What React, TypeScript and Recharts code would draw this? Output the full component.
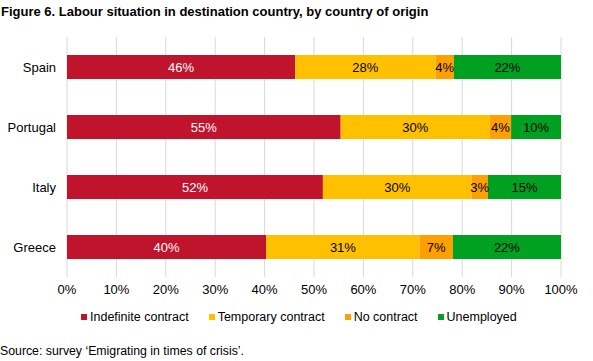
import React from 'react';
import { Bar, BarChart, CartesianGrid, LabelList, XAxis, YAxis } from 'recharts';

const countries = ['Spain', 'Portugal', 'Italy', 'Greece'];
const indefinite = [46.2, 55.4, 51.8, 40.3];
const temporary = [28.4, 30.2, 30.1, 31.1];
const noContract = [3.7, 4.3, 3.3, 6.7];
const unemployed = [21.7, 10.1, 14.8, 21.9];
const xTicks = [0, 10, 20, 30, 40, 50, 60, 70, 80, 90, 100];

const series = [
  { key: 'indefinite', name: 'Indefinite contract', color: '#C0132C', text: '#fff' },
  { key: 'temporary', name: 'Temporary contract', color: '#FFC000', text: '#000' },
  { key: 'noContract', name: 'No contract', color: '#FF9F00', text: '#000' },
  { key: 'unemployed', name: 'Unemployed', color: '#00A020', text: '#000' },
];

const data = countries.map((country, i) => ({
  country,
  indefinite: indefinite[i],
  temporary: temporary[i],
  noContract: noContract[i],
  unemployed: unemployed[i],
}));

const font = '"Liberation Sans", Arial, sans-serif';

const App = () => {
  return (
    <div style={{ position: 'fixed', left: 0, top: 0, width: 593, height: 361, background: '#fff', fontFamily: font }}>
      <BarChart
        width={593}
        height={361}
        layout="vertical"
        data={data}
        margin={{ top: 37, right: 32, bottom: 54, left: 0 }}
        style={{ fontFamily: font }}
      >
        <CartesianGrid horizontal={false} stroke="#d9d9d9" />
        <XAxis
          type="number"
          domain={[0, 100]}
          ticks={xTicks}
          interval={0}
          tickFormatter={(v) => v + '%'}
          axisLine={false}
          tickLine={false}
          height={30}
          tick={{ fill: '#000', fontSize: 13 }}
        />
        <YAxis
          type="category"
          dataKey="country"
          width={67}
          axisLine={false}
          tickLine={false}
          tickMargin={5}
          tick={{ fill: '#000', fontSize: 13 }}
        />
        {series.map((s) => (
          <Bar key={s.key} dataKey={s.key} stackId="a" fill={s.color} barSize={24} isAnimationActive={false}>
            <LabelList
              dataKey={s.key}
              position="center"
              fill={s.text}
              fontSize={13}
              formatter={(v: number) => Math.round(v) + '%'}
            />
          </Bar>
        ))}
      </BarChart>
      <div style={{ position: 'absolute', left: 1, top: 4, fontSize: 13, fontWeight: 'bold', color: '#000' }}>
        Figure 6. Labour situation in destination country, by country of origin
      </div>
      <div
        style={{
          position: 'absolute',
          left: 81,
          top: 310,
          display: 'flex',
          fontSize: 12.5,
          color: '#000',
        }}
      >
        {series.map((s) => (
          <div key={s.key} style={{ display: 'flex', alignItems: 'center', marginRight: 20 }}>
            <span style={{ display: 'inline-block', width: 6, height: 6, background: s.color, marginRight: 3 }} />
            <span>{s.name}</span>
          </div>
        ))}
      </div>
      <div style={{ position: 'absolute', left: 0, top: 344, fontSize: 12.3, color: '#000' }}>
        Source: survey ‘Emigrating in times of crisis’.
      </div>
    </div>
  );
};

export default App;
